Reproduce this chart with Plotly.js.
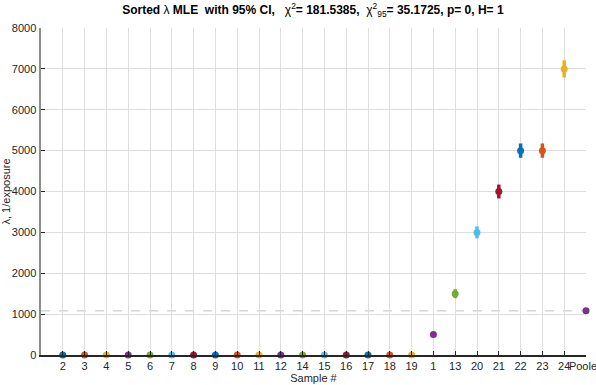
<!DOCTYPE html>
<html><head><meta charset="utf-8">
<script src="https://cdn.plot.ly/plotly-3.0.1.min.js"></script>
<style>html,body{margin:0;padding:0;background:#fff}#c{width:596px;height:385px}</style>
</head><body><div id="c"></div>
<script>
const samples = ["2","3","4","5","6","7","8","9","10","11","12","14","15","16","17","18","19","1","13","20","21","22","23","24","Pooled"];
const lambdaMLE = [0,0,0,0,0,0,0,0,0,0,0,0,0,0,0,0,0,500,1500,3000,4000,5000,5000,7000,1080];
const ciHalf = [0,0,0,0,0,0,0,0,0,0,0,0,0,0,0,0,0,60,110,145,170,175,175,210,0];
const pooledValue = 1080;
const palette = ["#0072BD","#D95319","#EDB120","#7E2F8E","#77AC30","#4DBEEE","#A2142F"];

const traces = samples.map((s,i)=>({
  x:[s], y:[lambdaMLE[i]], type:'scatter', mode:'markers',
  marker:{color:palette[i%7], size:7},
  error_y:{type:'data', array:[ciHalf[i]], color:palette[i%7], thickness:3.5, width:0, visible:true},
  showlegend:false, cliponaxis:false
}));

const layout = {
  width:596, height:385,
  margin:{l:41, r:10, t:28, b:30},
  paper_bgcolor:'#fff', plot_bgcolor:'#fff',
  font:{family:'Liberation Sans, Arial, sans-serif', size:11, color:'#262626'},
  title:{text:'<b>Sorted </b>λ<b> MLE  with 95% CI,   </b>χ<sup>2</sup><b>= 181.5385,  </b>χ<sup>2</sup><sub>95</sub><b>= 35.1725, p= 0, H= 1</b>',
    x:0.525, xanchor:'center', y:0.985, yanchor:'top', font:{size:12, color:'#000'}},
  xaxis:{type:'category', categoryorder:'array', categoryarray:samples, range:[-1,24],
    showgrid:true, gridcolor:'#dedede', gridwidth:1,
    showline:true, linecolor:'#262626', linewidth:1.5,
    ticks:'inside', ticklen:4, tickcolor:'#262626', tickangle:0,
    tickfont:{size:11, color:'#262626'},
    title:{text:'Sample #', font:{size:11, color:'#262626'}, standoff:1},
    zeroline:false, fixedrange:true},
  yaxis:{range:[0,8000], tickvals:[0,1000,2000,3000,4000,5000,6000,7000,8000],
    showgrid:true, gridcolor:'#dedede', gridwidth:1,
    showline:true, linecolor:'#8c8c8c', linewidth:2.5,
    ticks:'inside', ticklen:4, tickcolor:'#262626',
    tickfont:{size:11, color:'#262626'},
    title:{text:'λ, 1/exposure', font:{size:11, color:'#262626'}, standoff:6},
    zeroline:false, fixedrange:true},
  shapes:[{type:'line', xref:'paper', x0:0, x1:1, yref:'y', y0:pooledValue, y1:pooledValue,
    line:{color:'#c0c0c0', width:1, dash:'dash'}, layer:'below'}]
};
Plotly.newPlot('c', traces, layout, {displayModeBar:false, staticPlot:true});
</script></body></html>
